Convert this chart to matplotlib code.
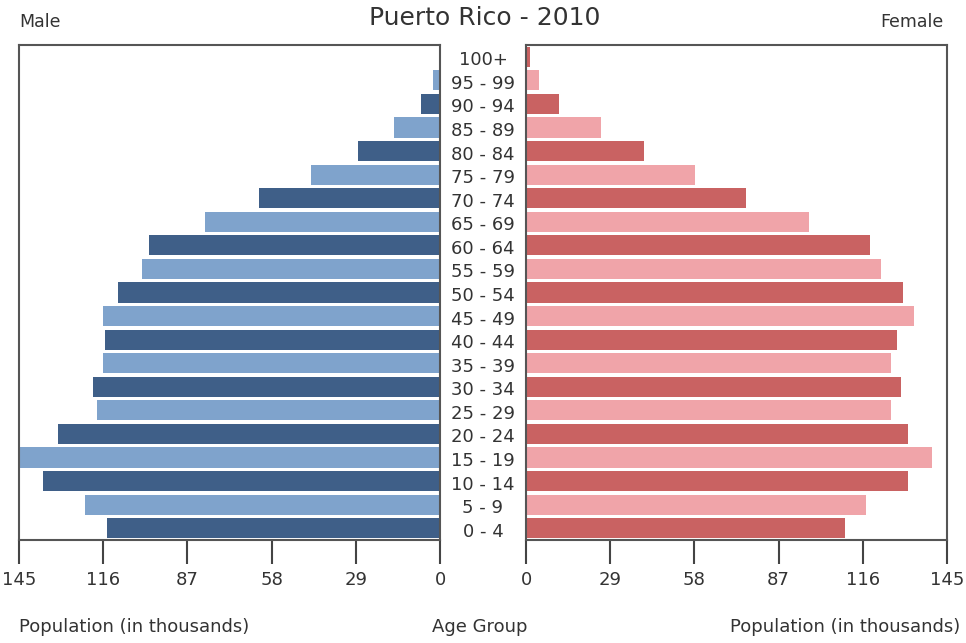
import matplotlib
matplotlib.use("Agg")
import matplotlib.pyplot as plt
from matplotlib.transforms import blended_transform_factory

age_groups = ["0 - 4", "5 - 9", "10 - 14", "15 - 19", "20 - 24", "25 - 29", "30 - 34",
              "35 - 39", "40 - 44", "45 - 49", "50 - 54", "55 - 59", "60 - 64", "65 - 69",
              "70 - 74", "75 - 79", "80 - 84", "85 - 89", "90 - 94", "95 - 99", "100+"]
male = [114.6, 122.2, 136.9, 144.7, 131.5, 118.0, 119.5, 115.9, 115.3, 116.0, 111.0,
        102.8, 100.1, 81.0, 62.3, 44.4, 28.1, 15.8, 6.6, 2.4, 0.4]
female = [110.0, 117.0, 131.5, 139.8, 131.5, 125.6, 129.3, 125.6, 127.8, 133.5, 130.0,
          122.4, 118.5, 97.5, 75.8, 58.3, 40.5, 25.9, 11.4, 4.4, 1.3]
ticks = [0, 29, 58, 87, 116, 145]

male_dark, male_light = "#3f5f88", "#7fa3cc"
female_dark, female_light = "#c96262", "#f0a4a9"
male_colors = [male_dark if i % 2 == 0 else male_light for i in range(len(age_groups))]
female_colors = [female_dark if i % 2 == 0 else female_light for i in range(len(age_groups))]

W, H = 966, 643
fig = plt.figure(figsize=(W / 100, H / 100), dpi=100)
fig.patch.set_facecolor("white")

top, bottom = 45, 540
axL = fig.add_axes([19 / W, 1 - bottom / H, 421 / W, (bottom - top) / H])
axR = fig.add_axes([526 / W, 1 - bottom / H, 421 / W, (bottom - top) / H])

ypos = list(range(len(age_groups)))
axL.barh(ypos, male, height=0.86, color=male_colors, linewidth=0)
axR.barh(ypos, female, height=0.86, color=female_colors, linewidth=0)

txt = "#333333"
for ax in (axL, axR):
    ax.set_ylim(-0.5, len(age_groups) - 0.5)
    ax.set_yticks([])
    ax.set_xticks(ticks)
    ax.set_xticklabels([str(t) for t in ticks])
    ax.tick_params(axis="x", direction="out", length=17, width=1.5, color="#444444",
                   labelsize=13, labelcolor=txt, pad=5)
    for s in ax.spines.values():
        s.set_color("#555555")
        s.set_linewidth(1.5)
axL.set_xlim(145, 0)
axR.set_xlim(0, 145)

tr = blended_transform_factory(fig.transFigure, axL.transData)
for i, lab in enumerate(age_groups):
    axL.text(483 / W, i - 0.15, lab, transform=tr, ha="center", va="center",
             fontsize=13, color=txt, clip_on=False)

fig.text(485 / W, 1 - 18 / H, "Puerto Rico - 2010", ha="center", va="center",
         fontsize=18, color=txt)
fig.text(19 / W, 1 - 22 / H, "Male", ha="left", va="center", fontsize=12.5, color=txt)
fig.text(944 / W, 1 - 22 / H, "Female", ha="right", va="center", fontsize=12.5, color=txt)
fig.text(19 / W, 1 - 627 / H, "Population (in thousands)", ha="left", va="center",
         fontsize=13, color=txt)
fig.text(960 / W, 1 - 627 / H, "Population (in thousands)", ha="right", va="center",
         fontsize=13, color=txt)
fig.text(480 / W, 1 - 627 / H, "Age Group", ha="center", va="center",
         fontsize=13, color=txt)

fig.savefig("out.png", dpi=100, facecolor="white")
